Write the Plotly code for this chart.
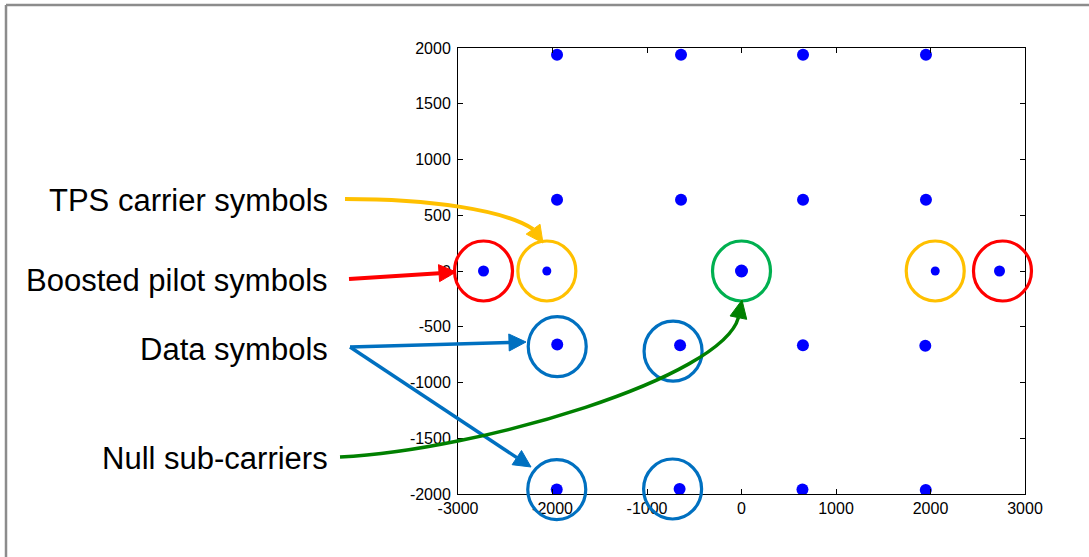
import plotly.graph_objects as go

# ---- data ----
data_x = [-1952, -640, 651, 1952,
          -1952, -640, 651, 1952,
          -1950, -650, 650, 1945,
          -1955, -655, 645, 1950]
data_y = [1940, 1940, 1940, 1940,
          640, 640, 640, 640,
          -660, -665, -665, -670,
          -1960, -1955, -1960, -1965]
pilot_x = [-2730, 2730]
pilot_y = [0, 0]
tps_x = [-2060, 2050]
tps_y = [0, 0]
null_x = [0]
null_y = [0]

x_ticks = [-3000, -2000, -1000, 0, 1000, 2000, 3000]
y_ticks = [-2000, -1500, -1000, -500, 0, 500, 1000, 1500, 2000]

labels = ["TPS carrier symbols", "Boosted pilot symbols", "Data symbols", "Null sub-carriers"]

# ---- layout geometry ----
W, H = 1089, 557
L, R, T, B = 458, 64, 48, 63
PW, PH = W - L - R, H - T - B
XR = (-3000, 3000)
YR = (-2000, 2000)


def px(x):
    return (x - L) / PW


def py(y):
    return (H - B - y) / PH


def dx(v):  # data -> pixel
    return L + (v - XR[0]) / (XR[1] - XR[0]) * PW


def dy(v):
    return H - B - (v - YR[0]) / (YR[1] - YR[0]) * PH


shapes = []


def circle(cx, cy, color, rx=29, ry=30):
    shapes.append(dict(type="circle", xref="paper", yref="paper",
                       x0=px(cx - rx), x1=px(cx + rx), y0=py(cy + ry), y1=py(cy - ry),
                       line=dict(color=color, width=3.2), layer="above"))


def head(tip, base_dir, color, length=17, half=8.5):
    tx, ty = tip
    ux, uy = base_dir
    n = (ux * ux + uy * uy) ** 0.5
    ux, uy = ux / n, uy / n
    bx, by = tx - ux * length, ty - uy * length
    pxn, pyn = -uy, ux
    pts = [(tx, ty), (bx + pxn * half, by + pyn * half), (bx - pxn * half, by - pyn * half)]
    path = "M " + " L ".join(f"{px(a):.5f},{py(b):.5f}" for a, b in pts) + " Z"
    shapes.append(dict(type="path", xref="paper", yref="paper", path=path,
                       fillcolor=color, line=dict(color=color, width=1), layer="above"))
    return bx, by


def curve(p0, c1, c2, p3, color, width=4):
    path = (f"M {px(p0[0]):.5f},{py(p0[1]):.5f} C {px(c1[0]):.5f},{py(c1[1]):.5f} "
            f"{px(c2[0]):.5f},{py(c2[1]):.5f} {px(p3[0]):.5f},{py(p3[1]):.5f}")
    shapes.append(dict(type="path", xref="paper", yref="paper", path=path,
                       line=dict(color=color, width=width), layer="above"))


def straight(p0, p1, color, width=4):
    shapes.append(dict(type="line", xref="paper", yref="paper",
                       x0=px(p0[0]), y0=py(p0[1]), x1=px(p1[0]), y1=py(p1[1]),
                       line=dict(color=color, width=width), layer="above"))


YEL, RED, GRN_C, GRN_A, BLU = "#FFC000", "#FF0000", "#00B050", "#008000", "#0070C0"

# circles around symbols (centred on data values)
circle(dx(pilot_x[0]), dy(0), RED)
circle(dx(pilot_x[1]) + 3, dy(0), RED)
circle(dx(tps_x[0]), dy(0), YEL)
circle(dx(tps_x[1]), dy(0), YEL)
circle(dx(0), dy(0), GRN_C)
circle(dx(data_x[8]), dy(data_y[8]) + 2, BLU)
circle(dx(data_x[9]) - 7, dy(data_y[9]) + 6, BLU)
circle(dx(data_x[12]), dy(data_y[12]), BLU)
circle(dx(data_x[13]) - 7, dy(data_y[13]), BLU)

# yellow curved arrow
bx, by = head((543, 243), (0.58, 0.81), YEL)
curve((345, 199), (430, 199), (505, 210), (bx, by), YEL, 4)
# red straight arrow
bx, by = head((456, 272), (105, -7), RED)
straight((349, 279), (bx, by), RED, 4)
# blue arrows
bx, by = head((526, 342), (176, -5), BLU)
straight((350, 347), (bx, by), BLU, 3.5)
bx, by = head((531, 467), (181, 120), BLU)
straight((350, 347), (bx, by), BLU, 3.5)
# green curved arrow
bx, by = head((742, 300), (0.2, -0.98), GRN_A, length=18)
curve((340, 457), (480, 450), (722, 378), (bx, by), GRN_A, 3.5)

# grey frame
shapes.append(dict(type="line", xref="paper", yref="paper", x0=px(6), x1=px(1100),
                   y0=py(5), y1=py(5), line=dict(color="#8C8C8C", width=2.5)))
shapes.append(dict(type="line", xref="paper", yref="paper", x0=px(6), x1=px(6),
                   y0=py(5), y1=py(570), line=dict(color="#8C8C8C", width=2.5)))

annotations = []
label_y = [200, 280, 349, 458]
for txt, yy in zip(labels, label_y):
    annotations.append(dict(text=txt, xref="paper", yref="paper", x=px(330), y=py(yy),
                            xanchor="right", yanchor="middle", showarrow=False,
                            font=dict(family="Liberation Sans, Arial", size=31, color="black")))

fig = go.Figure()
fig.add_trace(go.Scatter(x=data_x, y=data_y, mode="markers",
                         marker=dict(color="#0000FF", size=12), showlegend=False))
fig.add_trace(go.Scatter(x=pilot_x, y=pilot_y, mode="markers",
                         marker=dict(color="#0000FF", size=11), showlegend=False))
fig.add_trace(go.Scatter(x=tps_x, y=tps_y, mode="markers",
                         marker=dict(color="#0000FF", size=9), showlegend=False))
fig.add_trace(go.Scatter(x=null_x, y=null_y, mode="markers",
                         marker=dict(color="#0000FF", size=13), showlegend=False))

axis_common = dict(showline=True, linecolor="black", linewidth=1, mirror="ticks",
                   ticks="inside", ticklen=5, tickcolor="black", showgrid=False,
                   zeroline=False, tickfont=dict(family="Liberation Sans, Arial", size=16, color="black"))
fig.update_xaxes(range=list(XR), tickvals=x_ticks, ticktext=[str(v) for v in x_ticks], **axis_common)
fig.update_yaxes(range=list(YR), tickvals=y_ticks, ticktext=[str(v) for v in y_ticks],
                 ticklabelstandoff=3, **axis_common)

fig.update_layout(width=W, height=H, margin=dict(l=L, r=R, t=T, b=B, pad=0),
                  paper_bgcolor="white", plot_bgcolor="white",
                  shapes=shapes, annotations=annotations)
fig.write_html("out.html", config={"displayModeBar": False},
               post_script="document.body.style.margin='0';document.body.style.padding='0';")
